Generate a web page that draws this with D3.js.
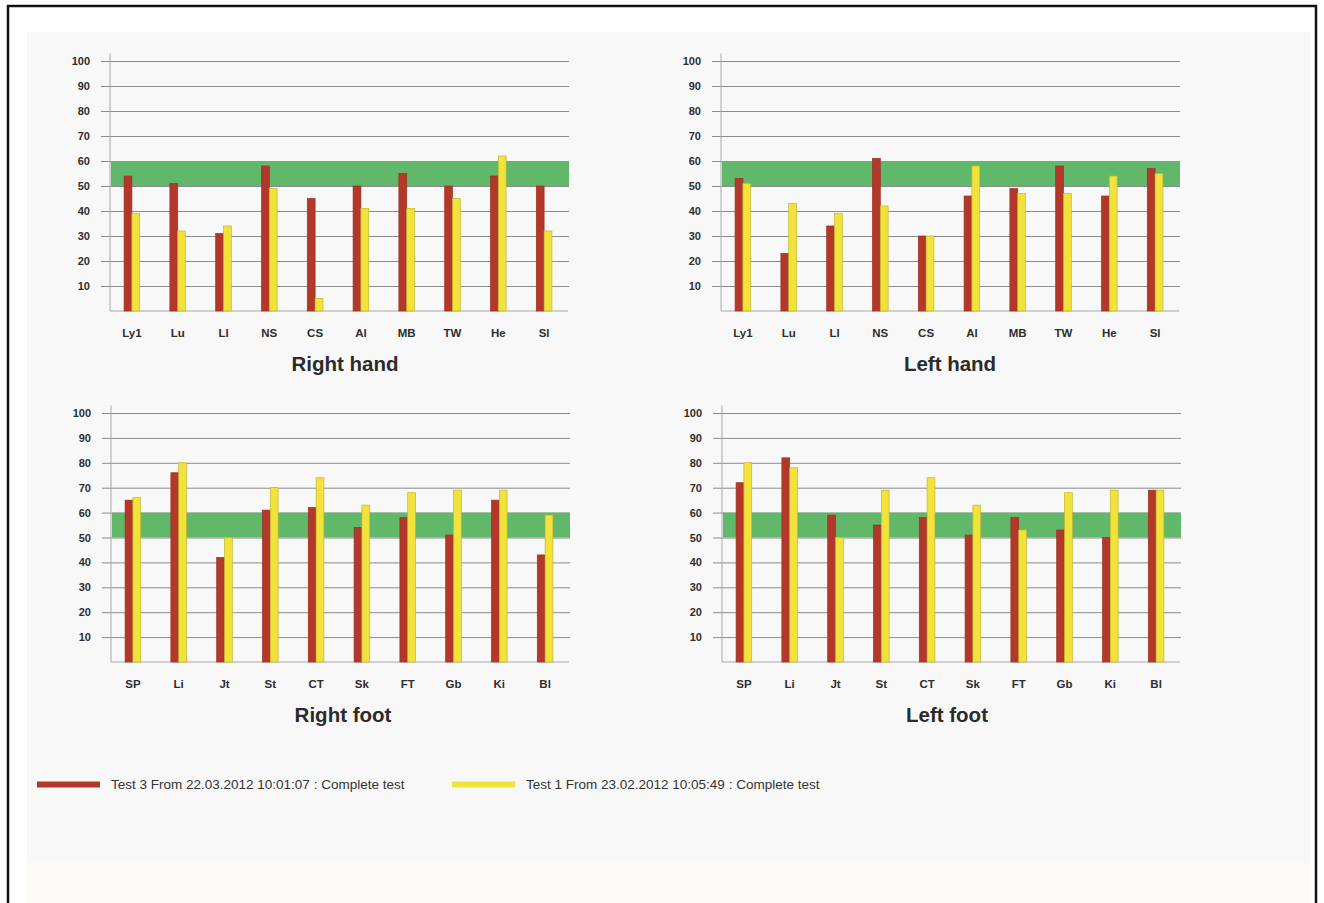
<!DOCTYPE html>
<html><head><meta charset="utf-8">
<script src="https://cdn.jsdelivr.net/npm/d3@7"></script>
<style>body{margin:0;background:#fff}svg{display:block}</style>
</head><body><svg id="c" width="1324" height="903"></svg>
<script>
// ---------- data ----------
const handCategories = ["Ly1","Lu","Ll","NS","CS","Al","MB","TW","He","Sl"];
const footCategories = ["SP","Li","Jt","St","CT","Sk","FT","Gb","Ki","Bl"];
const rightHandTest3 = [54,51,31,58,45,50,55,50,54,50];
const rightHandTest1 = [39,32,34,49,5,41,41,45,62,32];
const leftHandTest3  = [53,23,34,61,30,46,49,58,46,57];
const leftHandTest1  = [51,43,39,42,30,58,47,47,54,55];
const rightFootTest3 = [65,76,42,61,62,54,58,51,65,43];
const rightFootTest1 = [66,80,50,70,74,63,68,69,69,59];
const leftFootTest3  = [72,82,59,55,58,51,58,53,50,69];
const leftFootTest1  = [80,78,50,69,74,63,53,68,69,69];
const yTickValues = [10,20,30,40,50,60,70,80,90,100];
const normalRange = [50,60];
const seriesKeys = ["test3","test1"];
const seriesLabels = ["Test 3 From 22.03.2012 10:01:07 :  Complete test",
                      "Test 1 From 23.02.2012 10:05:49 :  Complete test"];

// ---------- styles / layout ----------
const COLORS = {test3:"#b3382a", test1:"#f2e33c"};
const STROKES = {test3:"#9c2f22", test1:"#c4b52a"};
const panels = [
  {title:"Right hand", cats:handCategories, t3:rightHandTest3, t1:rightHandTest1, x0:109, x1:567, yTop:61,  yBase:311, tdx:7},
  {title:"Left hand",  cats:handCategories, t3:leftHandTest3,  t1:leftHandTest1,  x0:720, x1:1178, yTop:61, yBase:311, tdx:1},
  {title:"Right foot", cats:footCategories, t3:rightFootTest3, t1:rightFootTest1, x0:110, x1:568, yTop:413, yBase:662, tdx:4},
  {title:"Left foot",  cats:footCategories, t3:leftFootTest3,  t1:leftFootTest1,  x0:721, x1:1179, yTop:413, yBase:662, tdx:-3}
];

const svg = d3.select("#c");
// page / scan background
svg.append("rect").attr("x",0).attr("y",0).attr("width",1324).attr("height",903).attr("fill","#ffffff");
svg.append("rect").attr("x",27).attr("y",32).attr("width",1283).attr("height",831).attr("fill","#f8f8f8");
svg.append("rect").attr("x",27).attr("y",863).attr("width",1283).attr("height",40).attr("fill","#fcfbf5");
// frame
svg.append("path").attr("d","M8,903 V6 H1316 V903").attr("fill","none").attr("stroke","#111").attr("stroke-width",2.5);

const font = "'Liberation Sans', Arial, sans-serif";

panels.forEach(p => {
  const g = svg.append("g");
  const y = d3.scaleLinear().domain([0,100]).range([p.yBase, p.yTop]);
  const x = d3.scaleBand().domain(p.cats).range([p.x0, p.x1]).paddingInner(0).paddingOuter(0);
  const bw = x.bandwidth();
  const xs = d3.scaleBand().domain(seriesKeys).range([bw/2 - 7.8, bw/2 + 7.8]);

  // gridlines + tick marks via axis
  const yAxis = d3.axisLeft(y).tickValues(yTickValues).tickSize(-(p.x1 - p.x0 + 1)).tickPadding(20).tickFormat(d3.format("d"));
  const ga = g.append("g").attr("transform",`translate(${p.x0+1},0)`).call(yAxis);
  ga.select(".domain").remove();
  ga.selectAll(".tick line").attr("stroke","#8c8c8c").attr("stroke-width",1).attr("x1",-9);
  ga.selectAll(".tick text").attr("fill","#2e2e2e").attr("font-family",font).attr("font-weight","bold").attr("font-size","11px");

  // vertical axis line & baseline
  g.append("line").attr("x1",p.x0+1).attr("x2",p.x0+1).attr("y1",y(103)).attr("y2",p.yBase).attr("stroke","#a8a8a8").attr("stroke-width",1);
  g.append("line").attr("x1",p.x0+1).attr("x2",p.x1+1).attr("y1",p.yBase).attr("y2",p.yBase).attr("stroke","#a8a8a8").attr("stroke-width",1);

  // normal range band
  g.append("rect").attr("x",p.x0+2).attr("width",p.x1 - p.x0).attr("y",y(normalRange[1])).attr("height",y(normalRange[0]) - y(normalRange[1]))
    .attr("fill","#62b86a");

  // bars
  const rows = p.cats.map((c,i) => ({cat:c, test3:p.t3[i], test1:p.t1[i]}));
  const groups = g.selectAll(".cat").data(rows).join("g").attr("transform", d => `translate(${x(d.cat)},0)`);
  groups.selectAll("rect").data(d => seriesKeys.map(k => ({key:k, value:d[k]}))).join("rect")
    .attr("x", d => xs(d.key)).attr("width", xs.bandwidth())
    .attr("y", d => y(d.value)).attr("height", d => p.yBase - y(d.value))
    .attr("fill", d => COLORS[d.key]).attr("stroke", d => STROKES[d.key]).attr("stroke-width",0.7);

  // category labels
  const xAxis = d3.axisBottom(x).tickSize(0).tickPadding(18);
  const gx = g.append("g").attr("transform",`translate(0,${p.yBase})`).call(xAxis);
  gx.select(".domain").remove();
  gx.selectAll(".tick text").attr("fill","#2e2e2e").attr("font-family",font).attr("font-weight","bold").attr("font-size","11.5px");

  // title
  g.append("text").attr("x",(p.x0+p.x1)/2 + p.tdx).attr("y",p.yBase+60).attr("text-anchor","middle")
    .attr("font-family",font).attr("font-weight","bold").attr("font-size","20.5px").attr("fill","#2b2b2b").text(p.title);
});

// legend
const legendX = [37, 452];
const lg = svg.append("g");
seriesKeys.forEach((k,i) => {
  lg.append("line").attr("x1",legendX[i]).attr("x2",legendX[i]+63).attr("y1",784.5).attr("y2",784.5)
    .attr("stroke",COLORS[k]).attr("stroke-width",6);
  lg.append("text").attr("x",legendX[i]+74).attr("y",789).attr("font-family","'Liberation Sans Narrow','Arial Narrow',sans-serif")
    .attr("font-size","13.5px").attr("fill","#333").text(seriesLabels[i]);
});
</script></body></html>
